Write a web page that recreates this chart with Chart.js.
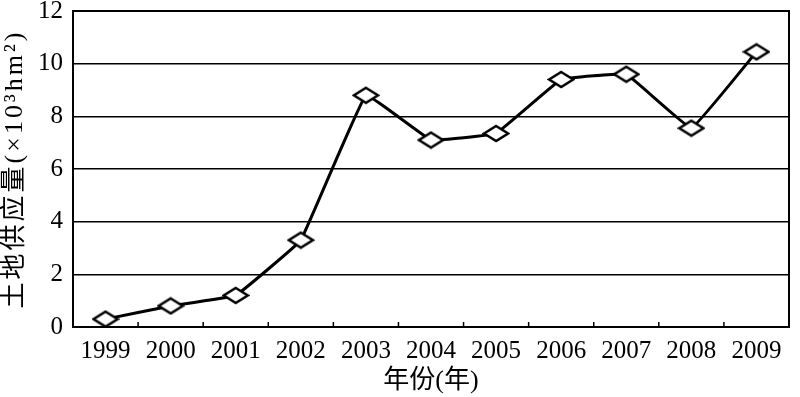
<!DOCTYPE html>
<html>
<head>
<meta charset="utf-8">
<script src="https://cdn.jsdelivr.net/npm/chart.js@4/dist/chart.umd.min.js"></script>
<style>
  html, body { margin: 0; padding: 0; background: #fff; }
  #wrap { width: 800px; height: 397px; }
</style>
</head>
<body>
<div id="wrap"><canvas id="landChart" width="800" height="397"></canvas></div>
<script>
// données
const years = ['1999', '2000', '2001', '2002', '2003', '2004', '2005', '2006', '2007', '2008', '2009'];
const supply = [0.3, 0.8, 1.2, 3.3, 8.8, 7.1, 7.35, 9.4, 9.6, 7.55, 10.45];
const yTickValues = [0, 2, 4, 6, 8, 10, 12];

const serif = "'Liberation Serif', 'Noto Sans CJK SC', serif";

// losange aplati pour les points
function makeDiamond(w, h) {
    const c = document.createElement('canvas');
    c.width = w + 4;
    c.height = h + 4;
    const g = c.getContext('2d');
    g.fillStyle = '#fff';
    g.strokeStyle = '#000';
    g.lineWidth = 2.5;
    g.beginPath();
    g.moveTo(c.width / 2, 2);
    g.lineTo(c.width - 2, c.height / 2);
    g.lineTo(c.width / 2, c.height - 2);
    g.lineTo(2, c.height / 2);
    g.closePath();
    g.fill();
    g.stroke();
    return c;
}

// cadre + petites graduations internes sur l'axe x
const framePlugin = {
    id: 'frame',
    afterDatasetsDraw(chart) {
        const { ctx, chartArea: a, scales: { x } } = chart;
        ctx.save();
        ctx.strokeStyle = '#000';
        ctx.lineWidth = 2;
        ctx.strokeRect(a.left, a.top, a.right - a.left, a.bottom - a.top);
        ctx.lineWidth = 1.5;
        for (let i = 1; i < years.length; i++) {
            const px = (x.getPixelForValue(i - 1) + x.getPixelForValue(i)) / 2;
            ctx.beginPath();
            ctx.moveTo(px, a.bottom);
            ctx.lineTo(px, a.bottom - 5);
            ctx.stroke();
        }
        ctx.restore();
    }
};

function drawChart() {
    const ctx = document.getElementById('landChart').getContext('2d');
    new Chart(ctx, {
        type: 'line',
        data: {
            labels: years,
            datasets: [{
                data: supply,
                borderColor: '#000',
                borderWidth: 3,
                tension: 0.06,
                pointStyle: makeDiamond(24, 15),
                pointRadius: 8,
                pointHoverRadius: 8
            }]
        },
        options: {
            responsive: false,
            animation: false,
            events: [],
            layout: { padding: { left: 0, right: 3, top: 11, bottom: 0 } },
            plugins: { legend: { display: false }, tooltip: { enabled: false } },
            scales: {
                x: {
                    offset: true,
                    grid: { display: false, drawTicks: false },
                    border: { display: true, color: '#000', width: 2 },
                    ticks: { color: '#000', padding: 9, font: { family: serif, size: 25 }, maxRotation: 0 },
                    title: { display: true, text: '年份(年)', color: '#000', padding: { top: 0, bottom: 0 }, font: { family: serif, size: 26 } },
                    afterFit(scale) {
                        scale.height = 70;
                        scale.paddingLeft = 0;
                        scale.paddingRight = 0;
                    }
                },
                y: {
                    min: 0,
                    max: 12,
                    afterBuildTicks(scale) {
                        scale.ticks = yTickValues.map(v => ({ value: v }));
                    },
                    grid: { color: '#000', lineWidth: 1.5, drawTicks: false },
                    border: { display: true, color: '#000', width: 2 },
                    ticks: { color: '#000', padding: 10, font: { family: serif, size: 25 } },
                    title: { display: true, text: '土地供应量(×10³hm²)', color: '#000', padding: { top: 0, bottom: 2 }, font: { family: serif, size: 26 } },
                    afterFit(scale) {
                        scale.width = 73;
                        scale.paddingTop = 0;
                        scale.paddingBottom = 0;
                        // titre un peu espacé comme sur l'original
                        if (!scale._spaced) {
                            const orig = scale.drawTitle.bind(scale);
                            scale.drawTitle = function () {
                                this.ctx.save();
                                this.ctx.letterSpacing = '3px';
                                orig();
                                this.ctx.restore();
                            };
                            scale._spaced = true;
                        }
                    }
                }
            }
        },
        plugins: [framePlugin]
    });
}

// attendre les polices avant de dessiner
Promise.all([
    document.fonts.load("24px 'Liberation Serif'", '0123456789()×³²hm'),
    document.fonts.load("24px 'Noto Sans CJK SC'", '土地供应量年份')
]).then(drawChart, drawChart);
</script>
</body>
</html>
